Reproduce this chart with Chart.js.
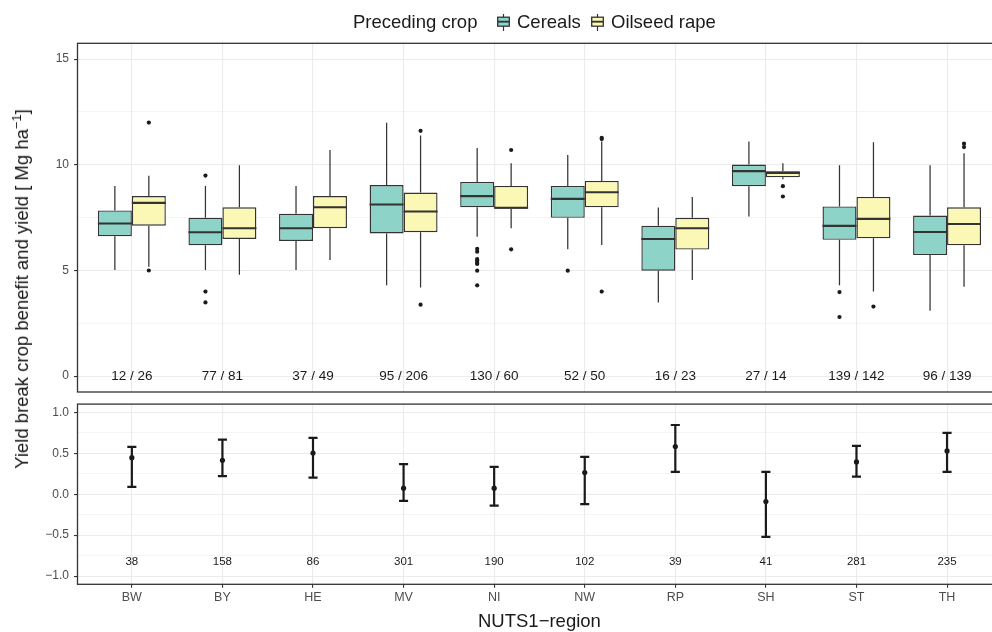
<!DOCTYPE html>
<html><head><meta charset="utf-8">
<script src="https://cdn.jsdelivr.net/npm/chart.js@4.4.1/dist/chart.umd.min.js"></script>
<style>
html,body{margin:0;padding:0;background:#fff;overflow:hidden;width:992px;height:632px;}
body{position:relative;font-family:"Liberation Sans",Arial,sans-serif;color:#1a1a1a;}
#topWrap{position:absolute;left:0;top:0;width:1010px;height:400px;}
#botWrap{position:absolute;left:0;top:395px;width:1010px;height:237px;}
#ytitle{position:absolute;left:22px;top:289px;transform:translate(-50%,-50%) rotate(-90deg);white-space:nowrap;font-size:18.5px;line-height:22px;}
#ytitle sup{font-size:0.7em;vertical-align:0.55em;line-height:0;}
.lg{position:absolute;top:10.5px;font-size:18.5px;line-height:22px;white-space:nowrap;}
.key{position:absolute;top:14px;}
</style></head>
<body>
<div id="topWrap"><canvas id="topChart"></canvas></div>
<div id="botWrap"><canvas id="botChart"></canvas></div>
<div id="ytitle">Yield break crop benefit and yield [ Mg ha<sup>−1</sup>]</div>
<span class="lg" style="left:353px">Preceding crop</span>
<svg class="key" style="left:497px" width="13" height="17"><line x1="6.5" y1="0" x2="6.5" y2="17" stroke="#333" stroke-width="1.2"/><rect x="0.7" y="3.2" width="11.6" height="9" fill="#8dd3c7" stroke="#333" stroke-width="1.3"/><line x1="0.7" y1="7.7" x2="12.3" y2="7.7" stroke="#333" stroke-width="1.8"/></svg>
<span class="lg" style="left:517px">Cereals</span>
<svg class="key" style="left:591px" width="13" height="17"><line x1="6.5" y1="0" x2="6.5" y2="17" stroke="#333" stroke-width="1.2"/><rect x="0.7" y="3.2" width="11.6" height="9" fill="#fbf7b5" stroke="#333" stroke-width="1.3"/><line x1="0.7" y1="7.7" x2="12.3" y2="7.7" stroke="#333" stroke-width="1.8"/></svg>
<span class="lg" style="left:611px">Oilseed rape</span>
<script>
// ---------------- data ----------------
const regions = ['BW','BY','HE','MV','NI','NW','RP','SH','ST','TH'];

// Cereals as preceding crop (yield, Mg/ha)
const cerLow  = [5.02, 5.02, 5.02, 4.30, 6.60, 6.00, 3.49, 7.55, 4.30, 3.10];
const cerQ1   = [6.62, 6.19, 6.40, 6.75, 7.99, 7.49, 4.99, 8.99, 6.45, 5.73];
const cerMed  = [7.22, 6.81, 7.00, 8.12, 8.52, 8.39, 6.49, 9.70, 7.11, 6.82];
const cerQ3   = [7.84, 7.50, 7.69, 9.04, 9.19, 9.00, 7.12, 10.01, 8.03, 7.60];
const cerHigh = [9.00, 9.00, 9.00, 11.99, 10.80, 10.47, 7.98, 11.10, 9.98, 9.98];
const cerOut  = [[], [9.49, 4.00, 3.49], [], [], [6.02, 5.89, 5.54, 5.47, 5.37, 5.31, 4.99, 4.30], [4.99], [], [], [3.98, 2.80], []];

// Oilseed rape as preceding crop
const oilLow  = [5.18, 4.80, 5.50, 4.20, 7.00, 6.21, 4.55, 9.32, 4.00, 4.23];
const oilQ1   = [7.12, 6.49, 7.00, 6.81, 7.92, 7.99, 5.99, 9.41, 6.52, 6.19];
const oilMed  = [8.20, 7.00, 7.99, 7.79, 7.97, 8.70, 7.00, 9.62, 7.44, 7.20];
const oilQ3   = [8.52, 7.99, 8.52, 8.69, 9.00, 9.24, 7.49, 9.70, 8.48, 7.99];
const oilHigh = [9.48, 9.98, 10.70, 11.39, 10.08, 11.10, 8.48, 10.08, 11.07, 10.55];
const oilOut  = [[12.00, 5.00], [], [], [11.61, 3.38], [10.70, 6.00], [11.28, 11.22, 4.00], [], [8.99, 8.50], [3.29], [11.00, 10.84]];

// sample sizes (cereals / oilseed rape)
const cerN = [12, 77, 37, 95, 130, 52, 16, 27, 139, 96];
const oilN = [26, 81, 49, 206, 60, 50, 23, 14, 142, 139];

// break crop benefit (Mg/ha) with interval
const benefit = [0.446, 0.414, 0.503, 0.073, 0.073, 0.264, 0.581, -0.090, 0.394, 0.528];
const benLow  = [0.089, 0.220, 0.203, -0.082, -0.139, -0.122, 0.272, -0.521, 0.215, 0.272];
const benHigh = [0.577, 0.666, 0.687, 0.366, 0.333, 0.455, 0.845, 0.272, 0.589, 0.748];
const benN    = [38, 158, 86, 301, 190, 102, 39, 41, 281, 235];

// axis ticks
const topMajor = [0, 5, 10, 15];
const topMinor = [2.5, 7.5, 12.5];
const botMajor = [-1, -0.5, 0, 0.5, 1];
const botMinor = [-0.75, -0.25, 0.25, 0.75];

// ---------------- styling ----------------
const FONT = '"Liberation Sans", Arial, sans-serif';
const CER_COL = '#8dd3c7', OIL_COL = '#fbf7b5', EDGE = '#333333';
const BOXW = 0.375;          // width of one box in category units (0.75 dodge / 2)
const DODGE = BOXW / 2;
const CAP = 0.05;
Chart.defaults.font.family = FONT;
Chart.defaults.animation = false;

function xScale(showLabels) {
  return {
    type: 'linear', min: 0.4, max: 10.6, offset: false,
    afterBuildTicks: s => { s.ticks = regions.map((r, i) => ({ value: i + 1 })); },
    afterFit: s => { s.height = showLabels ? 47.7 : 0; s.paddingLeft = 0; s.paddingRight = 0; },
    ticks: { display: showLabels, autoSkip: false, maxRotation: 0, padding: 2.5, color: '#4d4d4d',
             font: { size: 12.5 }, callback: v => regions[Math.round(v) - 1] || '' },
    grid: { color: '#ebebeb', lineWidth: 1.1, drawTicks: showLabels, tickLength: 3.5,
            tickColor: EDGE, tickWidth: 1.1, offset: false },
    border: { display: false },
    title: { display: showLabels, text: 'NUTS1\u2212region', color: '#1a1a1a',
             font: { size: 18.5, lineHeight: 1.1 }, padding: { top: 0, bottom: 0 } }
  };
}
function yScale(min, max, major, minor, fmt) {
  const all = major.concat(minor).sort((a, b) => a - b);
  const isMajor = v => major.some(m => Math.abs(m - v) < 1e-9);
  return {
    type: 'linear', min, max, stacked: false,
    afterBuildTicks: s => { s.ticks = all.map(v => ({ value: v })); },
    afterFit: s => { s.width = 77.5; s.paddingTop = 0; s.paddingBottom = 0; },
    ticks: { autoSkip: false, padding: 5, color: '#4d4d4d', font: { size: 12 },
             callback: v => isMajor(v) ? fmt(v) : '' },
    grid: { color: '#ebebeb',
            lineWidth: c => (c.tick && isMajor(c.tick.value)) ? 1.1 : 0.55,
            tickLength: 3.5, tickWidth: 1.1,
            tickColor: c => (c.tick && isMajor(c.tick.value)) ? EDGE : 'rgba(0,0,0,0)' },
    border: { display: false }
  };
}
const panelBorder = {
  id: 'panelBorder',
  afterDraw(chart) {
    const a = chart.chartArea, ctx = chart.ctx;
    ctx.save(); ctx.strokeStyle = EDGE; ctx.lineWidth = 1.3;
    ctx.strokeRect(a.left, a.top, a.right - a.left, a.bottom - a.top);
    ctx.restore();
  }
};
function textLayer(id, labels, yVal, size) {
  return {
    id,
    afterDatasetsDraw(chart) {
      const xs = chart.scales.x, ys = chart.scales.y, ctx = chart.ctx;
      ctx.save();
      ctx.fillStyle = '#1a1a1a'; ctx.font = size + 'px ' + FONT;
      ctx.textAlign = 'center'; ctx.textBaseline = 'middle';
      labels.forEach((t, i) => ctx.fillText(t, xs.getPixelForValue(i + 1), ys.getPixelForValue(yVal)));
      ctx.restore();
    }
  };
}

// ---------------- top panel: box plots ----------------
function boxes(q1, q3, col, stack) {
  return { type: 'bar', stack, grouped: true, order: 2,
    data: regions.map((r, i) => ({ x: i + 1, y: [q1[i], q3[i]] })),
    backgroundColor: col, borderColor: EDGE, borderWidth: 1.4, borderSkipped: false,
    categoryPercentage: 0.75, barPercentage: 1.0 };
}
function medians(med, dx) {
  const d = [];
  regions.forEach((r, i) => {
    const c = i + 1 + dx;
    d.push({ x: c - DODGE, y: med[i] }, { x: c + DODGE, y: med[i] }, { x: c, y: null });
  });
  return { type: 'line', data: d, borderColor: EDGE, borderWidth: 2.1, pointRadius: 0,
           spanGaps: false, order: 1, borderCapStyle: 'butt' };
}
function whiskers(low, q1, q3, high, dx) {
  const d = [];
  regions.forEach((r, i) => {
    const x = i + 1 + dx;
    d.push({ x, y: q3[i] }, { x, y: high[i] }, { x, y: null });
    d.push({ x, y: low[i] }, { x, y: q1[i] }, { x, y: null });
  });
  return { type: 'line', data: d, borderColor: EDGE, borderWidth: 1.25, pointRadius: 0,
           spanGaps: false, order: 3, borderCapStyle: 'butt' };
}
function outliers(out, dx) {
  const d = [];
  out.forEach((arr, i) => arr.forEach(v => d.push({ x: i + 1 + dx, y: v })));
  return { type: 'scatter', data: d, pointRadius: 2.1, pointBackgroundColor: '#1a1a1a',
           pointBorderWidth: 0, order: 0 };
}
new Chart(document.getElementById('topChart'), {
  type: 'bar',
  data: { datasets: [
    boxes(cerQ1, cerQ3, CER_COL, 'cereals'),
    boxes(oilQ1, oilQ3, OIL_COL, 'oilseed'),
    medians(cerMed, -DODGE),
    medians(oilMed, DODGE),
    whiskers(cerLow, cerQ1, cerQ3, cerHigh, -DODGE),
    whiskers(oilLow, oilQ1, oilQ3, oilHigh, DODGE),
    outliers(cerOut, -DODGE),
    outliers(oilOut, DODGE)
  ]},
  options: {
    responsive: true, maintainAspectRatio: false, devicePixelRatio: 1,
    layout: { padding: { top: 43.3, right: 8.6, bottom: 8, left: 0 } },
    scales: { x: xScale(false), y: yScale(-0.75, 15.75, topMajor, topMinor, v => String(v)) },
    plugins: { legend: { display: false }, tooltip: { enabled: false } }
  },
  plugins: [textLayer('topCounts', cerN.map((n, i) => n + ' / ' + oilN[i]), 0, 13.5), panelBorder]
});

// ---------------- bottom panel: benefit with intervals ----------------
const barData = [];
regions.forEach((r, i) => {
  const x = i + 1;
  barData.push({ x, y: benLow[i] }, { x, y: benHigh[i] }, { x, y: null });
  barData.push({ x: x - CAP, y: benHigh[i] }, { x: x + CAP, y: benHigh[i] }, { x, y: null });
  barData.push({ x: x - CAP, y: benLow[i] }, { x: x + CAP, y: benLow[i] }, { x, y: null });
});
new Chart(document.getElementById('botChart'), {
  type: 'scatter',
  data: { datasets: [
    { type: 'line', data: barData, borderColor: '#1a1a1a', borderWidth: 2.2, pointRadius: 0,
      spanGaps: false, borderCapStyle: 'butt' },
    { type: 'scatter', data: regions.map((r, i) => ({ x: i + 1, y: benefit[i] })),
      pointRadius: 2.6, pointBackgroundColor: '#1a1a1a', pointBorderWidth: 0 }
  ]},
  options: {
    responsive: true, maintainAspectRatio: false, devicePixelRatio: 1,
    layout: { padding: { top: 9.1, right: 8.6, bottom: 0, left: 0 } },
    scales: { x: xScale(true),
              y: yScale(-1.1, 1.1, botMajor, botMinor, v => v.toFixed(1).replace('-', '\u2212')) },
    plugins: { legend: { display: false }, tooltip: { enabled: false } }
  },
  plugins: [textLayer('botCounts', benN.map(String), -0.82, 11.5), panelBorder]
});
</script>
</body></html>
